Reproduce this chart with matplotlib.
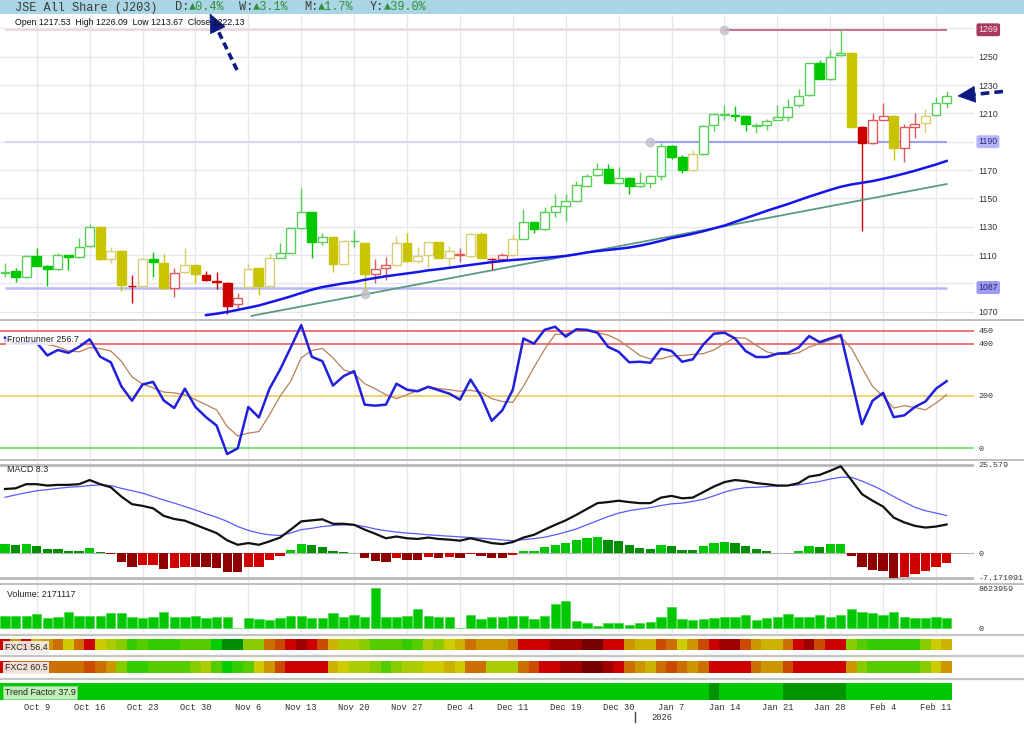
import numpy as np
import matplotlib
matplotlib.use("Agg")
import matplotlib.pyplot as plt
from matplotlib.patches import Rectangle, Polygon
from matplotlib.lines import Line2D
from matplotlib.colors import ListedColormap, BoundaryNorm
import matplotlib.transforms as mtransforms

# ---------------- data ----------------
TITLE = "JSE All Share (J203)"
CHANGES = [("D:", "▲0.4%"), ("W:", "▲3.1%"), ("M:", "▲1.7%"), ("Y:", "▲39.0%")]
OHLC_TEXT = "Open 1217.53  High 1226.09  Low 1213.67  Close 1222.13"

TICK_POS = [3, 8, 13, 18, 23, 28, 33, 38, 43, 48, 53, 58, 63, 68, 73, 78, 83, 88]
TICK_LABELS = ["Oct 9", "Oct 16", "Oct 23", "Oct 30", "Nov 6", "Nov 13", "Nov 20",
               "Nov 27", "Dec 4", "Dec 11", "Dec 19", "Dec 30", "Jan 7", "Jan 14",
               "Jan 21", "Jan 28", "Feb 4", "Feb 11"]
YEAR_LABEL = "2026"
YEAR_BOUNDARY = 59.5

OPEN = [1097.5, 1098.7, 1094.3, 1109.3, 1102.3, 1099.9, 1109.8, 1108.4, 1116.4, 1130.0,
        1107.2, 1113.1, 1088.4, 1088.2, 1107.2, 1104.2, 1087.0, 1098.0, 1103.0, 1095.9,
        1091.9, 1090.5, 1075.4, 1087.7, 1100.6, 1088.2, 1108.2, 1111.7, 1128.9, 1140.1,
        1119.4, 1122.5, 1103.9, 1119.7, 1118.3, 1096.4, 1100.6, 1102.7, 1118.3, 1105.8,
        1109.8, 1119.0, 1108.2, 1110.3, 1109.3, 1124.9, 1107.4, 1107.0, 1110.0, 1121.3,
        1133.1, 1128.4, 1140.2, 1144.9, 1148.4, 1159.0, 1166.5, 1170.5, 1160.6, 1164.6,
        1158.7, 1161.1, 1166.0, 1187.0, 1179.4, 1170.0, 1181.1, 1201.8, 1209.0, 1208.6,
        1208.4, 1201.4, 1201.6, 1205.3, 1207.7, 1215.9, 1223.0, 1245.3, 1234.3, 1251.0,
        1252.8, 1200.6, 1188.8, 1205.3, 1208.1, 1185.3, 1200.6, 1203.0, 1208.8, 1217.53]
HIGH = [1104.2, 1100.6, 1110.0, 1114.7, 1102.8, 1111.2, 1110.2, 1121.8, 1131.9, 1130.5,
        1115.9, 1113.5, 1095.9, 1108.0, 1111.9, 1110.7, 1100.6, 1114.7, 1103.4, 1098.7,
        1098.3, 1091.0, 1083.4, 1103.5, 1101.0, 1111.2, 1118.3, 1129.3, 1157.1, 1140.5,
        1125.8, 1123.0, 1120.5, 1128.0, 1118.7, 1107.2, 1108.9, 1123.5, 1125.3, 1115.9,
        1119.4, 1119.4, 1116.4, 1114.7, 1125.3, 1126.0, 1107.8, 1111.2, 1124.9, 1142.5,
        1133.5, 1144.2, 1153.1, 1153.0, 1162.0, 1167.2, 1175.2, 1174.3, 1172.4, 1165.0,
        1168.9, 1166.2, 1189.3, 1187.4, 1180.6, 1184.1, 1201.7, 1210.0, 1215.9, 1215.2,
        1209.0, 1203.4, 1206.3, 1215.9, 1220.1, 1227.0, 1245.7, 1247.7, 1254.7, 1269.3,
        1253.2, 1201.0, 1210.5, 1217.5, 1208.5, 1202.5, 1210.5, 1212.8, 1221.8, 1226.09]
LOW = [1094.7, 1091.2, 1093.5, 1102.0, 1088.2, 1099.5, 1099.4, 1108.0, 1116.0, 1106.5,
       1104.2, 1084.6, 1075.9, 1087.8, 1094.7, 1086.6, 1080.2, 1097.6, 1090.5, 1091.9,
       1085.8, 1068.4, 1071.2, 1087.3, 1081.8, 1087.8, 1107.8, 1111.3, 1128.5, 1107.7,
       1117.1, 1097.8, 1103.5, 1115.9, 1083.0, 1090.0, 1092.4, 1102.3, 1105.4, 1104.2,
       1101.1, 1107.8, 1101.8, 1105.3, 1108.9, 1107.8, 1099.4, 1106.6, 1109.6, 1121.0,
       1125.3, 1128.0, 1136.6, 1134.0, 1148.0, 1158.6, 1166.0, 1160.7, 1160.2, 1153.1,
       1158.3, 1157.1, 1163.0, 1177.6, 1168.1, 1169.6, 1180.7, 1197.8, 1205.3, 1204.8,
       1197.6, 1196.4, 1198.3, 1205.0, 1204.6, 1214.3, 1222.6, 1234.0, 1233.9, 1250.6,
       1200.2, 1127.2, 1188.4, 1205.0, 1177.1, 1175.4, 1192.4, 1196.4, 1208.4, 1213.67]
CLOSE = [1098.2, 1094.3, 1109.3, 1102.5, 1100.4, 1109.8, 1108.6, 1115.9, 1130.0, 1107.0,
         1112.9, 1088.6, 1088.0, 1107.4, 1104.8, 1087.0, 1097.6, 1103.0, 1096.4, 1092.4,
         1090.7, 1074.0, 1079.4, 1100.2, 1088.2, 1107.7, 1111.2, 1128.9, 1140.1, 1119.4,
         1122.5, 1103.5, 1120.1, 1120.1, 1096.6, 1099.9, 1102.7, 1118.3, 1105.8, 1109.3,
         1119.0, 1108.2, 1112.9, 1110.7, 1124.9, 1108.2, 1107.0, 1109.8, 1121.1, 1133.1,
         1128.4, 1140.2, 1144.6, 1148.4, 1159.5, 1165.8, 1170.5, 1161.1, 1164.6, 1158.7,
         1160.6, 1165.8, 1187.0, 1179.4, 1170.0, 1181.1, 1201.3, 1209.5, 1209.6, 1208.2,
         1202.3, 1201.8, 1204.8, 1207.7, 1214.7, 1222.5, 1245.3, 1234.3, 1250.0, 1252.8,
         1200.6, 1189.3, 1205.3, 1208.1, 1185.3, 1200.1, 1202.3, 1208.4, 1217.1, 1222.13]
CANDLE_STATE = ("ggggggggg" + "yyyryg" + "yryyrrrr" + "yyy" + "ggggg" + "yy" + "g" + "y" + "rr"
                + "yyyyyy" + "r" + "yy" + "rr" + "y" + "g" * 16 + "y" + "g" * 14 + "y" + "rrr"
                + "y" + "rr" + "y" + "gg")

MA_START = 19
MOVING_AVG = [1067.6, 1068.6, 1069.8, 1071.3, 1072.8, 1074.4, 1076.5, 1078.6, 1080.8, 1083.2,
              1085.5, 1087.4, 1088.7, 1090.0, 1091.0, 1092.5, 1093.8, 1095.0, 1096.0, 1097.0,
              1098.0, 1099.2, 1100.0, 1101.0, 1102.0, 1103.0, 1104.0, 1105.0, 1105.8, 1106.5,
              1107.0, 1107.6, 1108.0, 1108.6, 1109.4, 1110.5, 1111.8, 1112.8, 1113.6, 1114.4,
              1115.3, 1116.6, 1118.2, 1120.0, 1122.0, 1123.4, 1125.0, 1126.8, 1128.8, 1130.8,
              1133.4, 1136.0, 1138.6, 1141.2, 1143.6, 1146.0, 1148.6, 1151.2, 1153.6, 1156.0,
              1158.2, 1159.8, 1161.0, 1162.2, 1163.8, 1165.6, 1167.5, 1169.5, 1171.7, 1173.9,
              1176.4]
TRENDLINE_X = [34, 89]
TRENDLINE_Y = [1082.2, 1160.1]
TRENDLINE_FROM = 23.3
RESISTANCE = 1269
RESISTANCE_FROM = 68
SUPPORT = 1190
SUPPORT_FROM = 61
LOW_SUPPORT = 1087
PRICE_TICKS = [1070, 1090, 1110, 1130, 1150, 1170, 1190, 1210, 1230, 1250]

FR_FAST = [423, 401, 404, 404, 355, 376, 365, 388, 417, 350,
           329, 237, 182, 244, 254, 183, 154, 228, 158, 119,
           87, -22, 0, 158, 118, 228, 301, 385, 471, 350,
           333, 240, 276, 295, 167, 163, 167, 247, 224, 218,
           235, 222, 209, 186, 263, 199, 105, 145, 224, 420,
           400, 453, 465, 427, 455, 453, 442, 388, 369, 329,
           331, 327, 381, 372, 331, 340, 397, 438, 442, 420,
           372, 349, 349, 362, 365, 385, 429, 406, 420, 433,
           263, 92, 182, 212, 119, 126, 158, 179, 228, 256.7]
FR_SLOW = [410, 405, 404, 404, 397, 388, 372, 369, 385, 381,
           372, 333, 273, 246, 231, 215, 212, 205, 186, 167,
           147, 83, 47, 58, 64, 128, 199, 256, 346, 374,
           382, 346, 301, 285, 247, 228, 205, 190, 205, 221,
           237, 228, 224, 218, 222, 214, 190, 179, 176, 237,
           310, 378, 436, 436, 453, 449, 442, 433, 414, 385,
           355, 342, 342, 353, 355, 359, 362, 376, 401, 423,
           421, 394, 369, 359, 359, 365, 387, 400, 414, 427,
           382, 308, 237, 199, 154, 163, 156, 147, 173, 205]
FR_LEVELS = [450, 400, 200, 0]

MACD_LINE = [18.6, 18.8, 20.0, 20.0, 19.6, 19.8, 19.8, 20.0, 21.2, 20.0,
             19.1, 16.4, 14.2, 13.7, 13.0, 10.8, 9.9, 9.4, 8.2, 7.0,
             5.8, 3.7, 2.4, 2.9, 2.4, 3.4, 4.5, 6.8, 9.2, 9.5,
             9.8, 8.5, 8.5, 8.2, 6.8, 5.6, 4.3, 4.8, 4.3, 4.1,
             4.5, 4.1, 3.9, 3.6, 4.3, 3.6, 2.9, 2.6, 3.2, 4.5,
             5.3, 6.8, 8.2, 9.5, 11.1, 12.8, 14.5, 14.8, 15.2, 14.8,
             14.5, 14.5, 16.1, 16.6, 15.9, 16.1, 17.7, 19.3, 20.6, 21.2,
             20.9, 20.3, 20.0, 19.6, 19.6, 20.3, 22.2, 22.7, 23.9, 25.2,
             21.2, 17.1, 15.2, 13.5, 10.3, 8.9, 7.9, 7.4, 7.7, 8.3]
MACD_SIGNAL = [16.2, 16.9, 17.5, 18.1, 18.4, 18.8, 19.1, 19.3, 19.6, 19.8,
               19.6, 18.8, 18.1, 17.4, 16.4, 15.4, 14.5, 13.5, 12.5, 11.4,
               10.4, 9.2, 7.7, 6.6, 5.8, 5.3, 5.1, 5.8, 6.8, 7.2,
               7.7, 8.0, 8.2, 8.2, 7.7, 7.0, 6.5, 6.1, 5.8, 5.6,
               5.3, 5.1, 4.9, 4.7, 4.5, 4.3, 4.1, 3.8, 3.6, 3.9,
               4.2, 4.6, 5.3, 6.1, 7.0, 8.2, 9.4, 10.6, 11.6, 12.3,
               12.8, 13.2, 13.8, 14.3, 14.5, 15.0, 15.6, 16.6, 17.7, 18.5,
               19.0, 19.1, 19.3, 19.5, 19.6, 19.8, 20.3, 20.8, 21.5, 22.0,
               22.0, 20.9, 19.6, 18.1, 16.4, 14.8, 13.3, 12.3, 11.6, 10.9]
MACD_HIST = [2.7, 2.2, 2.7, 2.1, 1.2, 1.15, 0.7, 0.7, 1.4, 0.2,
             -0.2, -2.6, -4.1, -3.6, -3.5, -4.6, -4.3, -3.9, -3.95, -4.1,
             -4.2, -5.5, -5.6, -4.1, -3.9, -2.1, -0.8, 1.0, 2.7, 2.2,
             1.9, 0.5, 0.3, 0.1, -1.4, -2.4, -2.6, -1.4, -1.9, -1.9,
             -1.2, -1.3, -1.2, -1.3, -0.2, -0.8, -1.3, -1.3, -0.7, 0.5,
             0.7, 1.7, 2.4, 2.9, 3.7, 4.3, 4.8, 3.9, 3.6, 2.4,
             1.6, 1.2, 2.2, 2.1, 1.0, 1.0, 2.1, 2.9, 3.1, 2.9,
             2.1, 1.2, 0.5, 0.1, 0.1, 0.5, 2.1, 1.9, 2.6, 2.7,
             -0.8, -3.9, -4.8, -5.3, -7.171091, -7.0, -6.0, -5.3, -3.9, -2.9]
MACD_MAX_LABEL = 25.579
MACD_MIN_LABEL = -7.171091

VOLUME = [2.73, 2.73, 2.73, 3.09, 2.30, 2.52, 3.60, 2.66, 2.73, 2.73,
          3.24, 3.24, 2.37, 2.16, 2.52, 3.60, 2.37, 2.37, 2.66, 2.16,
          2.44, 2.44, 0.0, 2.30, 2.01, 1.80, 2.30, 2.73, 2.73, 2.16,
          2.30, 3.38, 2.37, 2.88, 2.44, 8.623959, 2.52, 2.52, 2.66, 4.10,
          2.66, 2.37, 2.37, 0.0, 2.80, 2.01, 2.52, 2.37, 2.66, 2.66,
          2.01, 2.66, 5.18, 5.90, 1.58, 1.22, 0.43, 1.08, 1.08, 0.72,
          1.08, 1.44, 2.37, 4.53, 1.94, 1.73, 1.94, 2.16, 2.37, 2.44,
          2.80, 1.80, 2.16, 2.44, 3.09, 2.37, 2.37, 2.80, 2.52, 2.95,
          4.17, 3.45, 3.24, 2.80, 3.45, 2.37, 2.16, 2.16, 2.37, 2.171117]  # millions

FXC1 = [2, 5, 2, 6, 5, 4, 7, 4, 2, 7,
        8, 9, 11, 10, 11, 11, 11, 10, 10, 10,
        12, 13, 13, 9, 9, 4, 3, 2, 1, 2,
        3, 6, 8, 8, 9, 10, 10, 10, 11, 10,
        8, 9, 7, 6, 4, 5, 5, 5, 4, 2,
        2, 2, 1, 1, 1, 0, 0, 2, 2, 5,
        6, 6, 3, 4, 7, 5, 3, 2, 1, 1,
        3, 5, 6, 6, 4, 2, 1, 3, 2, 2,
        9, 10, 11, 11, 11, 11, 11, 9, 7, 6]
FXC2 = [2, 4, 4, 4, 4, 4, 4, 4, 3, 4,
        5, 9, 11, 11, 10, 10, 10, 10, 9, 8,
        10, 12, 11, 10, 7, 5, 3, 2, 2, 2,
        2, 6, 7, 8, 8, 9, 10, 9, 8, 8,
        7, 7, 6, 7, 4, 4, 8, 8, 8, 4,
        3, 2, 2, 1, 1, 0, 0, 1, 2, 4,
        5, 6, 4, 3, 4, 5, 4, 2, 2, 2,
        2, 4, 5, 5, 3, 2, 2, 2, 2, 2,
        5, 9, 10, 10, 10, 10, 10, 9, 7, 5]
TREND = [1] * 67 + [0] + [1] * 6 + [0] * 6 + [1] * 10

LABEL_FR = "Frontrunner 256.7"
LABEL_MACD = "MACD 8.3"
LABEL_VOL = "Volume: 2171117"
LABEL_FXC1 = "FXC1 56.4"
LABEL_FXC2 = "FXC2 60.5"
LABEL_TREND = "Trend Factor 37.9"

# ---------------- layout / style ----------------
W, H = 1024, 735
fig = plt.figure(figsize=(W / 100, H / 100), dpi=100)
fig.patch.set_facecolor("white")
N = len(CLOSE)
idx = np.arange(N)
STEP = 10.58
X0PX = 5.0
XL = ((0 - X0PX) / STEP, (974 - X0PX) / STEP)
GRID = "#e6e6ee"
MONO = ["Liberation Mono", "DejaVu Sans Mono"]
SANS = ["Liberation Sans", "DejaVu Sans"]
NAVY = "#0c1a80"


def fy(y):
    return 1 - y / H


def panel(top, bottom, left=0, right=974, vgrid=True):
    ax = fig.add_axes([left / W, 1 - bottom / H, (right - left) / W, (bottom - top) / H])
    ax.set_xlim(XL)
    for s in ax.spines.values():
        s.set_visible(False)
    ax.set_xticks([])
    ax.yaxis.tick_right()
    ax.tick_params(axis="y", length=0, pad=3.3, labelsize=6.0, labelcolor="#333333")
    ax.patch.set_alpha(0)
    if vgrid:
        for t in TICK_POS:
            ax.axvline(t, color=GRID, lw=1, zorder=0)
    return ax


def sep(y, lw=1.6, color="#c0c0c0"):
    fig.add_artist(Line2D([0, 1], [fy(y), fy(y)], transform=fig.transFigure, color=color, lw=lw))


# header bar
fig.add_artist(Rectangle((0, fy(14)), 1, 14 / H, transform=fig.transFigure, fc="#a9d5e4", ec="none"))
fig.text(15 / W, fy(7.5), TITLE, family=MONO, fontsize=8.6, color="#3a3a3a", va="center", ha="left")
for (lab, val), xp in zip(CHANGES, [175, 239, 304, 370]):
    fig.text(xp / W, fy(7.5), lab, family=MONO, fontsize=8.6, color="#3a3a3a", va="center", ha="left")
    fig.text((xp + 14.4) / W, fy(7.5), val, family=MONO, fontsize=8.6, color="#2f8f3a", va="center", ha="left")

# ---------------- price panel ----------------
axp = panel(15, 318)
axp.set_ylim(1065.55, 1279.43)
for p in range(1070, 1271, 20):
    axp.axhline(p, color=GRID, lw=1, zorder=0)
axp.set_yticks(PRICE_TICKS)
axp.set_yticklabels([str(t) for t in PRICE_TICKS], family=SANS, fontsize=6.3)

FILL = {"g": "#00c800", "y": "#c8c400", "r": "#cc0000"}
EDGE = {"g": "#55d055", "y": "#d8d070", "r": "#e05858"}
for i in idx:
    o, h, l, c, st = OPEN[i], HIGH[i], LOW[i], CLOSE[i], CANDLE_STATE[i]
    up = c >= o
    col = EDGE[st] if up else FILL[st]
    axp.vlines(i, l, h, color=col, lw=1.0, zorder=3)
    axp.add_patch(Rectangle((i - 0.42, min(o, c)), 0.84, max(abs(c - o), 0.45),
                            fc="white" if up else FILL[st], ec=col, lw=1.0, zorder=4))

axp.hlines(RESISTANCE, 0, N - 1, color="#ecd2da", lw=1.2, zorder=2)
axp.hlines(RESISTANCE, RESISTANCE_FROM, N - 1, color="#c0607e", lw=1.2, zorder=2)
axp.hlines(SUPPORT, 0, N - 1, color="#d8d8f4", lw=1.5, zorder=2)
axp.hlines(SUPPORT, SUPPORT_FROM, N - 1, color="#a0a0f0", lw=1.5, zorder=2)
axp.hlines(LOW_SUPPORT, 0, N - 1, color="#b8b8f4", lw=1.8, zorder=2)

slope = (TRENDLINE_Y[1] - TRENDLINE_Y[0]) / (TRENDLINE_X[1] - TRENDLINE_X[0])
tx = np.array([TRENDLINE_FROM, TRENDLINE_X[1]])
axp.plot(tx, TRENDLINE_Y[0] + slope * (tx - TRENDLINE_X[0]), color="#5a9a82", lw=1.3, zorder=5)
axp.plot(np.arange(MA_START, MA_START + len(MOVING_AVG)), MOVING_AVG, color="#1414ee", lw=1.8, zorder=5)
for (cx, cy) in [(TRENDLINE_X[0], TRENDLINE_Y[0]), (SUPPORT_FROM, SUPPORT), (RESISTANCE_FROM, RESISTANCE)]:
    axp.plot(cx, cy, "o", ms=6, color="#c4c0c8", alpha=0.8, zorder=6)

btr = mtransforms.blended_transform_factory(axp.transAxes, axp.transData)
for val, fc, tc in [(RESISTANCE, "#a8385c", "#f4e4ea"), (SUPPORT, "#b4b4fc", "#30306a"),
                    (LOW_SUPPORT, "#9c9cf4", "#26266a")]:
    axp.text(1.0045, val, str(val), transform=btr, va="center", ha="left", fontsize=6.3,
             family=SANS, color=tc, clip_on=False, zorder=10,
             bbox=dict(boxstyle="round,pad=0.22", fc=fc, ec="none"))

fig.text(15 / W, fy(22.5), OHLC_TEXT, family=SANS, fontsize=6.3, color="#111111", va="center", ha="left")

# ---------------- frontrunner ----------------
axf = panel(321, 458)
axf.set_ylim(-37.1, 486.8)
for lv, col in zip(FR_LEVELS, ["#e85050", "#e85050", "#f0c850", "#50e050"]):
    axf.axhline(lv, color=col, lw=1.1, zorder=1)
axf.plot(idx, FR_SLOW, color="#b88058", lw=0.9, zorder=3)
axf.plot(idx, FR_FAST, color="#2020dd", lw=1.8, zorder=4)
axf.set_yticks(FR_LEVELS)
axf.set_yticklabels([str(v) for v in FR_LEVELS], family=MONO)
axf.text(7 / 974, (458 - 340) / 137, LABEL_FR, transform=axf.transAxes, fontsize=6.4, family=SANS,
         color="#222222", va="center", ha="left", zorder=6,
         bbox=dict(boxstyle="square,pad=0.1", fc="white", ec="none", alpha=0.85))

# ---------------- MACD ----------------
axm = panel(460, 582)
axm.set_ylim(-8.4, 27.02)
axm.axhline(MACD_MAX_LABEL, color="#b8b8b8", lw=2, zorder=1)
axm.axhline(MACD_MIN_LABEL, color="#b8b8b8", lw=2, zorder=1)
axm.axhline(0, color="#b4b4b4", lw=0.8, zorder=1)
hist_cols = []
rising = True
prev = None
for hv in MACD_HIST:
    if prev is not None and hv != prev:
        rising = hv > prev
    if hv >= 0:
        hist_cols.append("#00c800" if rising else "#009000")
    else:
        hist_cols.append("#d00000" if rising else "#900000")
    prev = hv
axm.bar(idx, MACD_HIST, width=0.88, color=hist_cols, zorder=2)
axm.plot(idx, MACD_SIGNAL, color="#5a5aff", lw=0.9, zorder=3)
axm.plot(idx, MACD_LINE, color="#111111", lw=1.6, zorder=4)
axm.set_yticks([MACD_MAX_LABEL, 0, MACD_MIN_LABEL])
axm.set_yticklabels(["25.579", "0", "-7.171091"], family=MONO)
axm.text(7 / 974, (582 - 470) / 122, LABEL_MACD, transform=axm.transAxes, fontsize=6.4, family=SANS,
         color="#222222", va="center", ha="left", zorder=6)

# ---------------- volume ----------------
axv = panel(585, 633)
axv.set_ylim(-1.02e6, 9.38e6)
vol = np.array(VOLUME) * 1e6
axv.bar(idx, vol, width=0.88, color="#00c800", ec="#40d840", lw=0.5, zorder=2)
axv.set_yticks([0, max(vol)])
axv.set_yticklabels(["0", str(int(round(max(vol))))], family=MONO)
axv.text(7 / 974, (633 - 594.3) / 48, LABEL_VOL, transform=axv.transAxes, fontsize=6.4, family=SANS,
         color="#222222", va="center", ha="left", zorder=6)

# ---------------- heat strips ----------------
heat_cmap = ListedColormap(["#760000", "#a00000", "#cc0000", "#cc4a00", "#cc6e00", "#cc9600",
                            "#ccb200", "#cccc00", "#aacc00", "#88cc00", "#55cc00", "#33cc00",
                            "#00cc00", "#008c00"])
heat_norm = BoundaryNorm(np.arange(-0.5, 14.5, 1), heat_cmap.N)
xe = np.arange(N + 1) - 0.5


def strip(top, bottom, values, cmap, norm, label, box_fc, box_ec, label_y):
    ax = panel(top, bottom, vgrid=False)
    ax.set_ylim(0, 1)
    ax.set_yticks([])
    ax.pcolormesh(xe, [0, 1], np.array(values)[None, :], cmap=cmap, norm=norm)
    ax.text(5 / 974, (bottom - label_y) / (bottom - top), label, transform=ax.transAxes,
            fontsize=6.4, family=SANS, color="#222222", va="center", ha="left", zorder=6,
            clip_on=False,
            bbox=dict(boxstyle="square,pad=0.18", fc=box_fc, ec=box_ec, lw=0.6, alpha=0.9))
    return ax


strip(639, 650, FXC1, heat_cmap, heat_norm, LABEL_FXC1, "#f6eeee", "none", 647.5)
strip(661, 673, FXC2, heat_cmap, heat_norm, LABEL_FXC2, "#f6eeee", "none", 668)
trend_cmap = ListedColormap(["#009400", "#00c800"])
trend_norm = BoundaryNorm([-0.5, 0.5, 1.5], 2)
axt = strip(683, 700, TREND, trend_cmap, trend_norm, LABEL_TREND, "#d4f4cc", "#90d890", 692.5)
axt.set_xticks(TICK_POS)
axt.set_xticklabels(TICK_LABELS, family=MONO, fontsize=6.3, color="#333333")
axt.tick_params(axis="x", length=0, pad=2.2)
ttr = mtransforms.blended_transform_factory(axt.transData, axt.transAxes)
axt.text(YEAR_BOUNDARY + 1.6, -1.0, YEAR_LABEL, transform=ttr, family=MONO, fontsize=6.3,
         color="#333333", va="center", ha="left", clip_on=False)
axt.add_line(Line2D([YEAR_BOUNDARY, YEAR_BOUNDARY], [-0.7, -1.3], transform=ttr, color="#444444",
                    lw=1, clip_on=False))

# separators
for yy in [319.5, 459.5, 583.5]:
    sep(yy, lw=1.5)
for yy in [634.5, 655.5, 678.5]:
    sep(yy, lw=1.6, color="#c4c4c4")


# annotation arrows
def farrow(tail, tip, head_len, head_w, lw, dashes):
    tail = np.array(tail, float)
    tip = np.array(tip, float)
    d = tip - tail
    u = d / np.hypot(*d)
    base = tip - u * head_len
    perp = np.array([-u[1], u[0]])
    c1 = base + perp * head_w
    c2 = base - perp * head_w
    fig.add_artist(Line2D([tail[0] / W, base[0] / W], [fy(tail[1]), fy(base[1])],
                          transform=fig.transFigure, color=NAVY, lw=lw, dashes=dashes,
                          dash_capstyle="butt"))
    fig.add_artist(Polygon([(p[0] / W, fy(p[1])) for p in (tip, c1, c2)], closed=True,
                           transform=fig.transFigure, fc=NAVY, ec=NAVY, lw=0.5))


farrow((237, 70), (210, 14), 18, 8, 2.6, (2.0, 1.2))
farrow((1003, 91.5), (958, 96), 17, 8, 2.6, (2.4, 1.4))

fig.savefig("out.png", dpi=100)
